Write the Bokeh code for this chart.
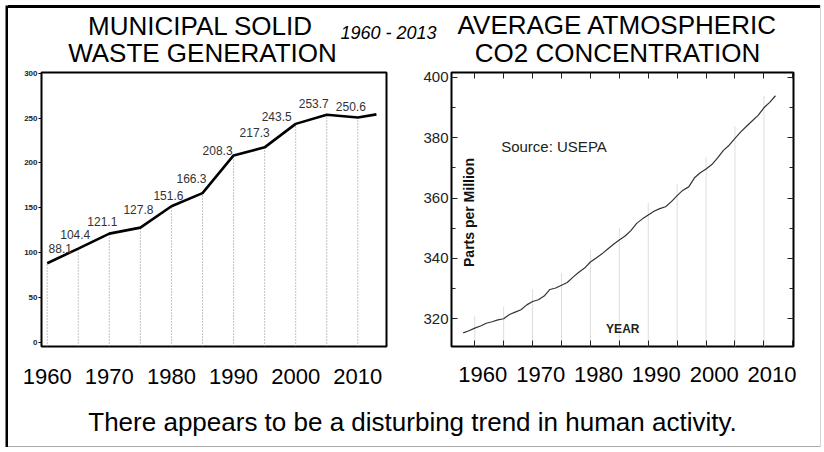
import math
from bokeh.plotting import figure
from bokeh.models import (ColumnDataSource, Range1d, LinearAxis, SingleIntervalTicker,
                          FixedTicker, Label, Spacer, Div, CustomJSTickFormatter)
from bokeh.layouts import column, row
from bokeh.embed import file_html
from bokeh.resources import INLINE
from bokeh.core.properties import value

# ---------------- data ----------------
msw_years = [1960, 1965, 1970, 1975, 1980, 1985, 1990, 1995, 2000, 2005, 2010, 2013]
msw_values = [88.1, 104.4, 121.1, 127.8, 151.6, 166.3, 208.3, 217.3, 243.5, 253.7, 250.6, 254.1]
msw_label_years = [1960, 1965, 1970, 1975, 1980, 1985, 1990, 1995, 2000, 2005, 2010]
msw_label_values = [88.1, 104.4, 121.1, 127.8, 151.6, 166.3, 208.3, 217.3, 243.5, 253.7, 250.6]
msw_labels = ["88.1", "104.4", "121.1", "127.8", "151.6", "166.3",
              "208.3", "217.3", "243.5", "253.7", "250.6"]
# label nudges (screen px) – layout only
label_dx = [13, -3, -7, -2, -3, -11, -16, -10, -19, -13, -7]
label_dy = [-15, -14, -12, -18, -11, -15, -5, -15, -7, -11, -11]

co2_years = list(range(1958, 2013))
co2_ppm = [315.3, 316.0, 316.9, 317.6, 318.5, 319.0, 319.6, 320.0, 321.4, 322.2,
           323.0, 324.6, 325.7, 326.3, 327.5, 329.7, 330.2, 331.1, 332.0, 333.8,
           335.4, 336.8, 338.8, 340.1, 341.5, 343.1, 344.7, 346.1, 347.4, 349.2,
           351.6, 353.1, 354.4, 355.6, 356.5, 357.1, 358.8, 360.8, 362.6, 363.7,
           366.7, 368.4, 369.6, 371.1, 373.3, 375.8, 377.5, 379.8, 381.9, 383.8,
           385.6, 387.4, 389.9, 391.7, 393.9]
co2_grid_years = [1960, 1965, 1970, 1975, 1980, 1985, 1990, 1995, 2000, 2005, 2010]

decade_ticks = [1960, 1970, 1980, 1990, 2000, 2010]

FONT = "Liberation Sans"
BLANK = CustomJSTickFormatter(code="return ''")


def vstrip(w, h, color):
    f = figure(width=w, height=h, min_border=0, toolbar_location=None, output_backend="svg",
               x_axis_type=None, y_axis_type=None, x_range=Range1d(0, 1), y_range=Range1d(0, 1))
    f.grid.visible = False
    f.outline_line_color = None
    f.background_fill_color = color
    f.border_fill_color = color
    return f


def hstrip(w, h, color):
    return Div(text="", width=w, height=h, margin=0,
               styles={"background-color": color, "width": f"{w}px", "height": f"{h}px"})


# ---------------- title strip ----------------
TW, TH = 812, 60
title_fig = figure(width=TW, height=TH, x_range=Range1d(0, TW), y_range=Range1d(TH, 0),
                   output_backend="svg", toolbar_location=None, min_border=0)
title_fig.axis.visible = False
title_fig.grid.visible = False
title_fig.outline_line_color = None
for txt, x, y, size, style in [
    ("MUNICIPAL SOLID", 192, 17, "26px", "normal"),
    ("WASTE GENERATION", 194, 44.5, "26px", "normal"),
    ("AVERAGE ATMOSPHERIC", 609, 16, "26px", "normal"),
    ("CO2 CONCENTRATION", 609, 44.5, "26px", "normal"),
    ("1960 - 2013", 380, 24.5, "18px", "italic"),
]:
    title_fig.add_layout(Label(x=x, y=y, text=txt, text_font=FONT, text_font_size=size,
                               text_font_style=style, text_align="center",
                               text_baseline="middle", text_color="black"))

# ---------------- left chart: MSW ----------------
LX0, LX1 = 1959.08, 2014.62
LY0, LY1 = -4.8, 300.8
left = figure(width=412, height=336, output_backend="svg", toolbar_location=None,
              x_range=Range1d(LX0, LX1), y_range=Range1d(LY0, LY1),
              min_border_left=33, min_border_right=34, min_border_top=4, min_border_bottom=58,
              x_axis_type=None, y_axis_type=None)
left.grid.visible = False
left.outline_line_color = "black"
left.outline_line_width = 2

yax = LinearAxis(ticker=SingleIntervalTicker(interval=50, num_minor_ticks=0))
yax.axis_line_color = None
yax.major_tick_out = 3
yax.major_tick_in = 0
yax.major_tick_line_color = "black"
yax.major_label_standoff = 1
yax.major_label_text_font = FONT
yax.major_label_text_font_size = "8px"
yax.major_label_text_font_style = "bold"
yax.major_label_text_color = "#222222"
left.add_layout(yax, "left")

xax = LinearAxis(ticker=FixedTicker(ticks=decade_ticks))
xax.axis_line_color = None
xax.major_tick_out = 0
xax.major_tick_in = 0
xax.major_label_standoff = 22
xax.major_label_text_font = FONT
xax.major_label_text_font_size = "22px"
xax.major_label_text_color = "black"
left.add_layout(xax, "below")

left.add_layout(Label(x=LX0 - 23 / 6.212, y=143.5, text="Million Tons", text_font=FONT,
                      text_font_size="13px", text_font_style="bold", angle=math.pi / 2,
                      text_align="center", text_baseline="middle", text_color="#111111"))

lsrc = ColumnDataSource(dict(x=msw_label_years, y=msw_label_values, t=msw_labels,
                             dx=label_dx, dy=label_dy))
left.segment(x0="x", y0=LY0, x1="x", y1="y", source=lsrc, line_color="#8a8a8a",
             line_width=1, line_dash="1 2")
left.line(msw_years, msw_values, line_color="black", line_width=2.6)
left.text(x="x", y="y", text="t", source=lsrc, x_offset="dx", y_offset="dy",
          text_font=value(FONT), text_font_size="12px", text_color="#333333",
          text_align="center", text_baseline="middle")

# ---------------- right chart: CO2 ----------------
RX0, RX1 = 1955.98, 2015.12
RY0, RY1 = 310.8, 401.6
right = figure(width=400, height=336, output_backend="svg", toolbar_location=None,
               x_range=Range1d(RX0, RX1), y_range=Range1d(RY0, RY1),
               min_border_left=30, min_border_right=27, min_border_top=2, min_border_bottom=54,
               x_axis_type=None, y_axis_type=None)
right.grid.visible = False
right.outline_line_color = "black"
right.outline_line_width = 2
right.extra_x_ranges = {"lab": Range1d(RX0 - 1.4, RX1 - 1.4)}


def inner_axis(ticker, show_labels=False):
    ax = LinearAxis(ticker=ticker)
    ax.axis_line_color = None
    ax.major_tick_in = 6
    ax.major_tick_out = 0
    ax.minor_tick_in = 4
    ax.minor_tick_out = 0
    ax.major_tick_line_color = "#222222"
    ax.minor_tick_line_color = "#222222"
    if show_labels:
        ax.major_label_standoff = 3
        ax.major_label_text_font = FONT
        ax.major_label_text_font_size = "15px"
        ax.major_label_text_color = "#222222"
    else:
        ax.formatter = BLANK
        ax.major_label_standoff = 0
        ax.major_label_text_font_size = "4px"
    return ax


right.add_layout(inner_axis(SingleIntervalTicker(interval=20, num_minor_ticks=2), True), "left")
right.add_layout(inner_axis(SingleIntervalTicker(interval=20, num_minor_ticks=2)), "right")
right.add_layout(inner_axis(SingleIntervalTicker(interval=5, num_minor_ticks=0)), "above")
right.add_layout(inner_axis(SingleIntervalTicker(interval=5, num_minor_ticks=0)), "below")

lab_ax = LinearAxis(ticker=FixedTicker(ticks=decade_ticks), x_range_name="lab")
lab_ax.axis_line_color = None
lab_ax.major_tick_in = 0
lab_ax.major_tick_out = 0
lab_ax.major_label_standoff = 20
lab_ax.major_label_text_font = FONT
lab_ax.major_label_text_font_size = "22px"
lab_ax.major_label_text_color = "black"
right.add_layout(lab_ax, "below")

co2_lookup = dict(zip(co2_years, co2_ppm))
gsrc = ColumnDataSource(dict(x=co2_grid_years, top=[co2_lookup[y] + 4 for y in co2_grid_years]))
right.segment(x0="x", y0=RY0, x1="x", y1="top", source=gsrc, line_color="#dddddd",
              line_width=1)
right.line(co2_years, co2_ppm, line_color="#333333", line_width=1.2)

right.add_layout(Label(x=1973.7, y=377, text="Source: USEPA", text_font=FONT,
                       text_font_size="15px", text_align="center", text_baseline="middle",
                       text_color="#222222"))
right.add_layout(Label(x=1985.6, y=316.7, text="YEAR", text_font=FONT, text_font_size="12px",
                       text_font_style="bold", text_align="center", text_baseline="middle",
                       text_color="#222222"))
right.add_layout(Label(x=1959.0, y=355.2, text="Parts per Million", text_font=FONT,
                       text_font_size="14px", text_font_style="bold", angle=math.pi / 2,
                       text_align="center", text_baseline="middle", text_color="#111111"))

# ---------------- bottom sentence ----------------
BW, BH = 812, 42
bottom = figure(width=BW, height=BH, x_range=Range1d(0, BW), y_range=Range1d(BH, 0),
                output_backend="svg", toolbar_location=None, min_border=0)
bottom.axis.visible = False
bottom.grid.visible = False
bottom.outline_line_color = None
bottom.add_layout(Label(x=404, y=17, text="There appears to be a disturbing trend in human activity.",
                        text_font=FONT, text_font_size="26px", text_align="center",
                        text_baseline="middle", text_color="black"))

inner = column(hstrip(812, 3, "black"), title_fig, row(left, right), bottom,
               hstrip(812, 1, "#aaaaaa"))
layout = column(Spacer(width=820, height=5),
                row(Spacer(width=5, height=442), vstrip(3, 442, "black"), inner,
                    vstrip(1, 442, "#aaaaaa")))

open("out.html", "w").write(file_html(layout, INLINE))
